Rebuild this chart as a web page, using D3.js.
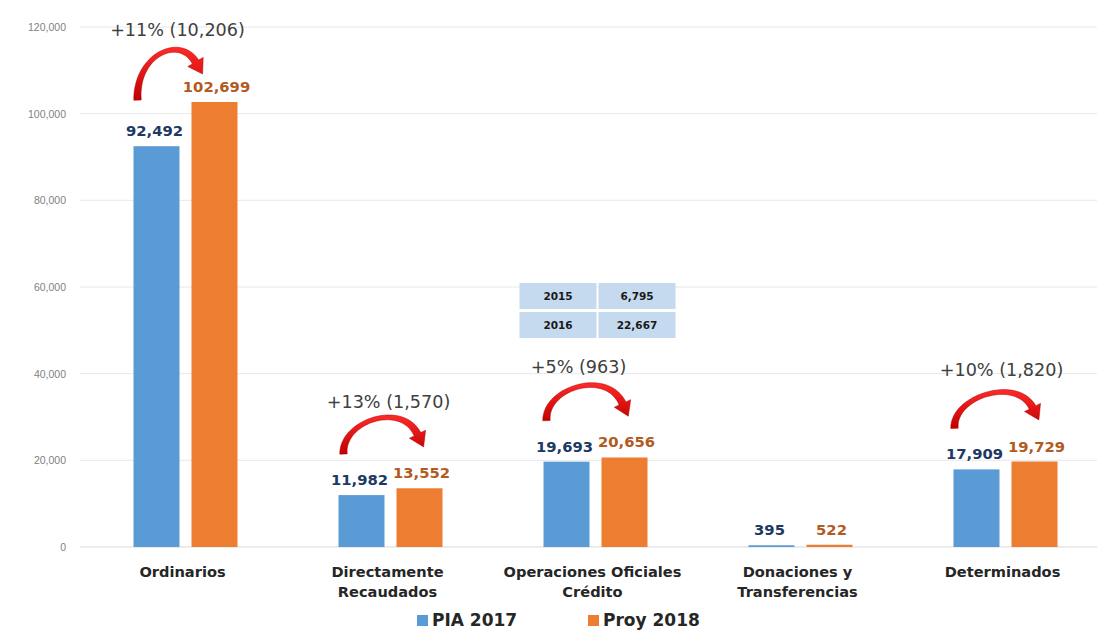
<!DOCTYPE html>
<html>
<head>
<meta charset="utf-8">
<script src="https://cdn.jsdelivr.net/npm/d3@7/dist/d3.min.js"></script>
<style>
  html, body { margin: 0; padding: 0; background: #ffffff; }
  svg { display: block; }
</style>
</head>
<body>
<svg id="chart" width="1097" height="632"></svg>
<script>
// ---------- DATA ----------
const categories = [
  ["Ordinarios"],
  ["Directamente", "Recaudados"],
  ["Operaciones Oficiales", "Crédito"],
  ["Donaciones y", "Transferencias"],
  ["Determinados"]
];
const seriesNames = ["PIA 2017", "Proy 2018"];
const pia2017 = [92492, 11982, 19693, 395, 17909];
const proy2018 = [102699, 13552, 20656, 522, 19729];
const changeLabels = ["+11% (10,206)", "+13% (1,570)", "+5% (963)", null, "+10% (1,820)"];
const yTicks = [0, 20000, 40000, 60000, 80000, 100000, 120000];
const tableRows = [["2015", "6,795"], ["2016", "22,667"]];

// ---------- LAYOUT ----------
const W = 1097, H = 632;
const colors = ["#5b9bd5", "#ed7d31"];
const labelColors = ["#203864", "#b35a1f"];
const svg = d3.select("#chart");

const x = d3.scaleBand().domain(d3.range(categories.length)).range([83, 1108]);
const y = d3.scaleLinear().domain([0, 120000]).range([547, 27]);
const barW = 46, barGap = 12;
const barX = (i, s) => x(i) + x.bandwidth() / 2 + (s === 0 ? -(barGap / 2 + barW) : barGap / 2);
const barCx = (i, s) => barX(i, s) + barW / 2;

// gridlines
const grid = svg.append("g");
yTicks.forEach(t => {
  grid.append("line")
    .attr("x1", 80).attr("x2", W)
    .attr("y1", y(t)).attr("y2", y(t))
    .attr("stroke", t === 0 ? "#d9d9d9" : "#e8e8e8").attr("stroke-width", 1);
});

// y axis labels
const yAxis = d3.axisLeft(y).tickValues(yTicks).tickFormat(d3.format(",")).tickSize(0).tickPadding(0);
const ya = svg.append("g").attr("transform", "translate(66,0)").call(yAxis);
ya.select(".domain").remove();
ya.selectAll("text")
  .attr("fill", "#7f7f7f")
  .style("font-family", "Liberation Sans, Arial, sans-serif")
  .style("font-size", "10.5px");

// bars
const series = [pia2017, proy2018];
series.forEach((vals, s) => {
  svg.append("g").selectAll("rect").data(vals).join("rect")
    .attr("x", (d, i) => barX(i, s))
    .attr("y", d => y(d))
    .attr("width", barW)
    .attr("height", d => y(0) - y(d))
    .attr("fill", colors[s]);
  svg.append("g").selectAll("text").data(vals).join("text")
    .attr("x", (d, i) => barCx(i, s) + (s === 0 ? -2 : 2))
    .attr("y", d => y(d) - 10)
    .attr("text-anchor", "middle")
    .attr("fill", labelColors[s])
    .style("font-family", "DejaVu Sans, Verdana, sans-serif")
    .style("font-weight", "bold")
    .style("font-size", "14.8px")
    .text(d => d3.format(",")(d));
});

// category labels
const xl = svg.append("g");
categories.forEach((lines, i) => {
  lines.forEach((ln, k) => {
    xl.append("text")
      .attr("x", x(i) + x.bandwidth() / 2 - 3)
      .attr("y", 577 + k * 20)
      .attr("text-anchor", "middle")
      .attr("fill", "#262626")
      .style("font-family", "DejaVu Sans, Verdana, sans-serif")
      .style("font-weight", "bold")
      .style("font-size", "14.6px")
      .text(ln);
  });
});

// curved arrows
const defs = svg.append("defs");
const grad = defs.append("linearGradient").attr("id", "redg").attr("x1", 0).attr("y1", 0).attr("x2", 0).attr("y2", 1);
grad.append("stop").attr("offset", "0%").attr("stop-color", "#ff2a2a");
grad.append("stop").attr("offset", "100%").attr("stop-color", "#c00000");

function bez(p0, p1, p2, p3, t) {
  const u = 1 - t;
  return [
    u*u*u*p0[0] + 3*u*u*t*p1[0] + 3*u*t*t*p2[0] + t*t*t*p3[0],
    u*u*u*p0[1] + 3*u*u*t*p1[1] + 3*u*t*t*p2[1] + t*t*t*p3[1]
  ];
}
function arrowPath(tail, end, peakY) {
  const p0 = tail, p1 = [tail[0] - 2, peakY + 3], p2 = [end[0] - 16, peakY - 17], p3 = end;
  const N = 40, left = [], right = [];
  for (let k = 0; k <= N; k++) {
    const t = k / N;
    const a = bez(p0, p1, p2, p3, Math.max(0, t - 0.01));
    const b = bez(p0, p1, p2, p3, Math.min(1, t + 0.01));
    let dx = b[0] - a[0], dy = b[1] - a[1];
    const L = Math.hypot(dx, dy); dx /= L; dy /= L;
    const nx = -dy, ny = dx;
    const w = (7.5 - 3 * Math.sin(Math.PI * t)) / 2;
    const p = bez(p0, p1, p2, p3, t);
    left.push([p[0] + nx * w, p[1] + ny * w]);
    right.push([p[0] - nx * w, p[1] - ny * w]);
  }
  let dx = p3[0] - p2[0], dy = p3[1] - p2[1];
  const L = Math.hypot(dx, dy); dx /= L; dy /= L;
  const nx = -dy, ny = dx, hw = 9, hl = 14;
  const tip = [p3[0] + dx * hl, p3[1] + dy * hl];
  const pts = left.concat([[p3[0] + nx * hw, p3[1] + ny * hw], tip, [p3[0] - nx * hw, p3[1] - ny * hw]], right.reverse());
  return "M" + pts.map(p => p[0].toFixed(1) + "," + p[1].toFixed(1)).join("L") + "Z";
}

// per-category annotation offsets (pixels)
const arrowLayout = [
  { tdx: -19, tdy: -46, edx: -19, edy: -40, pk: -10, lx: -8, ly: -16 },
  { tdx: -18, tdy: -41, edx: -2, edy: -54, pk: -16, lx: -2, ly: -10 },
  { tdx: -20, tdy: -41, edx: -2, edy: -54, pk: -18, lx: -17, ly: -12 },
  null,
  { tdx: -22, tdy: -41, edx: -2, edy: -54, pk: -14, lx: -4, ly: -18 }
];
const ann = svg.append("g");
changeLabels.forEach((lab, i) => {
  if (!lab) return;
  const L = arrowLayout[i];
  const tail = [barCx(i, 0) + L.tdx, y(pia2017[i]) + L.tdy];
  const end = [barCx(i, 1) + L.edx, y(proy2018[i]) + L.edy];
  const peakY = end[1] + L.pk;
  ann.append("path").attr("d", arrowPath(tail, end, peakY))
    .attr("fill", "url(#redg)").attr("stroke", "#b00000").attr("stroke-width", 0.5);
  ann.append("text")
    .attr("x", x(i) + x.bandwidth() / 2 + L.lx)
    .attr("y", peakY + L.ly)
    .attr("text-anchor", "middle")
    .attr("fill", "#404040")
    .style("font-family", "DejaVu Sans, Verdana, sans-serif")
    .style("font-size", "17.6px")
    .text(lab);
});

// small table above Operaciones
const tcx = x(2) + x.bandwidth() / 2 + 2;
const tbl = svg.append("g");
const colW = [77, 77], rowH = 26, rowGap = 3, t0 = 283;
tableRows.forEach((row, r) => {
  let cx = tcx - (colW[0] + colW[1] + 2) / 2;
  row.forEach((cell, c) => {
    tbl.append("rect")
      .attr("x", cx).attr("y", t0 + r * (rowH + rowGap))
      .attr("width", colW[c]).attr("height", rowH)
      .attr("fill", "#c5d9ef");
    tbl.append("text")
      .attr("x", cx + colW[c] / 2)
      .attr("y", t0 + r * (rowH + rowGap) + rowH / 2 + 4)
      .attr("text-anchor", "middle")
      .attr("fill", "#1a1a1a")
      .style("font-family", "DejaVu Sans, Verdana, sans-serif")
      .style("font-weight", "bold")
      .style("font-size", "10.5px")
      .text(cell);
    cx += colW[c] + 2;
  });
});

// legend
const leg = svg.append("g");
const legX = [417, 588];
seriesNames.forEach((name, s) => {
  leg.append("rect").attr("x", legX[s]).attr("y", 615).attr("width", 11).attr("height", 11).attr("fill", colors[s]);
  leg.append("text")
    .attr("x", legX[s] + 15).attr("y", 626)
    .attr("fill", "#262626")
    .style("font-family", "DejaVu Sans, Verdana, sans-serif")
    .style("font-weight", "bold")
    .style("font-size", "17px")
    .text(name);
});
</script>
</body>
</html>
